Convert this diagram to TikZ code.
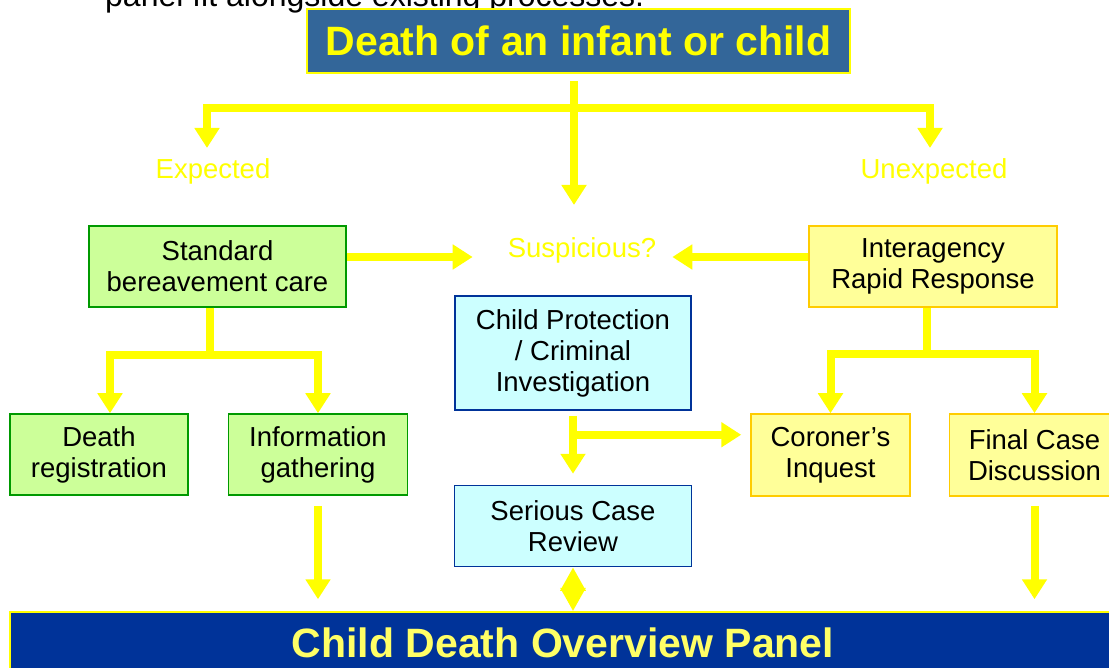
\documentclass[tikz,border=0pt]{standalone}
\usepackage{fontspec}
\setmainfont{Liberation Sans}
\usetikzlibrary{positioning,arrows.meta}
\definecolor{flowyellow}{HTML}{FFFF00}
\definecolor{paleyellow}{HTML}{FFFF66}
\definecolor{titleblue}{HTML}{336699}
\definecolor{panelblue}{HTML}{003399}
\definecolor{greenfill}{HTML}{CCFF99}
\definecolor{greenedge}{HTML}{009900}
\definecolor{yellowfill}{HTML}{FFFF99}
\definecolor{yellowedge}{HTML}{FFCC00}
\definecolor{cyanfill}{HTML}{CCFFFF}
\tikzset{
    module/.style={%
        draw, line width=1.5pt,
        minimum height=81pt,
        align=center, inner sep=0pt,
        font=\fontsize{27.5}{31}\selectfont
    },
    greenmod/.style={module, fill=greenfill, draw=greenedge},
    yellowmod/.style={module, fill=yellowfill, draw=yellowedge},
    bluemod/.style={module, fill=cyanfill, draw=panelblue},
    branchtext/.style={inner sep=0pt, text=flowyellow,
        font=\fontsize{27.5}{31}\selectfont},
    pipe/.style={draw=flowyellow, line width=8pt},
    flow/.style={pipe, ->},
    >={Triangle[width=24pt,length=20pt]}
}
\begin{document}
\begin{tikzpicture}[x=1pt, y=-1pt]
    \useasboundingbox (0,0) rectangle (1109,668);
    \clip (0,0) rectangle (1109,668);
    \fill[white] (0,0) rectangle (1109,668);
    \node[anchor=base west, inner sep=0pt, font=\fontsize{32}{36}\selectfont] (intro) at (105,7) {panel fit alongside existing processes.};
    % top and bottom
    \node[draw=flowyellow, line width=2pt, fill=titleblue, text=flowyellow, minimum width=543pt, minimum height=64pt, font=\bfseries\fontsize{41}{45}\selectfont] (death) at (578.5,41) {Death of an infant or child};
    \node[draw=flowyellow, line width=1.5pt, fill=panelblue, text=paleyellow, minimum width=1106pt, minimum height=62pt, font=\bfseries\fontsize{41}{45}\selectfont] (cdop) at (563,643) {Child Death Overview Panel};
    % first level
    \node[branchtext] (exp) at (213,171) {Expected};
    \node[branchtext] (unexp) at (934,171) {Unexpected};
    \node[branchtext] (susp) at (582,250) {Suspicious?};
    \node[greenmod, minimum width=257pt] (std) at (217.5,266.5) {Standard\\bereavement care};
    \node[yellowmod, minimum width=248pt] (irr) at (933,266.5) {Interagency\\Rapid Response};
    \node[bluemod, minimum width=236pt, minimum height=114pt] (cpi) at (573,353) {Child Protection\\/ Criminal\\Investigation};
    % second level
    \node[greenmod, minimum width=178pt] (reg) at (99,454.5) {Death\\registration};
    \node[greenmod, minimum width=179pt, right=39pt of reg] (info) {Information\\gathering};
    \node[bluemod, minimum width=237pt, below=74pt of cpi] (scr) {Serious Case\\Review};
    \node[yellowmod, minimum width=159pt, minimum height=82pt] (cor) at (830.5,455) {Coroner’s\\Inquest};
    \node[yellowmod, minimum width=170pt, minimum height=82pt, right=38pt of cor] (fcd) {Final Case\\Discussion};
    % connectors
    \coordinate (fork) at (574,108);
    \coordinate (lfork) at (207,108);
    \coordinate (rfork) at (930,108);
    \coordinate (lsplit) at (210,355);
    \coordinate (rsplit) at (927,354);
    \draw[flow, shorten <=7pt, shorten >=32pt] (fork |- death.south) -- (fork |- susp.north);
    \draw[pipe, <->, shorten <=10pt, shorten >=10pt] (lfork |- exp.north) -- (lfork) -- (rfork) -- (rfork |- unexp.north);
    \draw[flow, shorten >=35pt] ([yshift=9.5pt]std.east) -- ([yshift=9.5pt]std.east -| susp.west);
    \draw[flow, shorten >=16pt] ([yshift=9.5pt]irr.west) -- ([yshift=9.5pt]irr.west -| susp.east);
    \draw[pipe] (lsplit |- std.south) -- (lsplit);
    \draw[pipe, <->] ([xshift=11pt]reg.north) |- (lsplit) -| (info.north);
    \draw[pipe] (rsplit |- irr.south) -- (rsplit);
    \draw[pipe, <->] (cor.north) |- (rsplit) -| (fcd.north);
    \draw[flow, shorten <=5pt, shorten >=11pt] (cpi.south) -- (cpi.south |- scr.north);
    \draw[flow, shorten >=9pt] ([yshift=-24pt]cpi.south) -- ([yshift=-24pt]cpi.south -| cor.west);
    \draw[flow, shorten <=10pt, shorten >=12pt] (info.south) -- (info.south |- cdop.north);
    \draw[flow, shorten <=9pt, shorten >=12pt] (fcd.south) -- (fcd.south |- cdop.north);
    \draw[pipe, {Triangle[width=24pt,length=23.5pt]}-{Triangle[width=24pt,length=23.5pt]}] (scr.south) -- (scr.south |- cdop.north);
\end{tikzpicture}
\end{document}
